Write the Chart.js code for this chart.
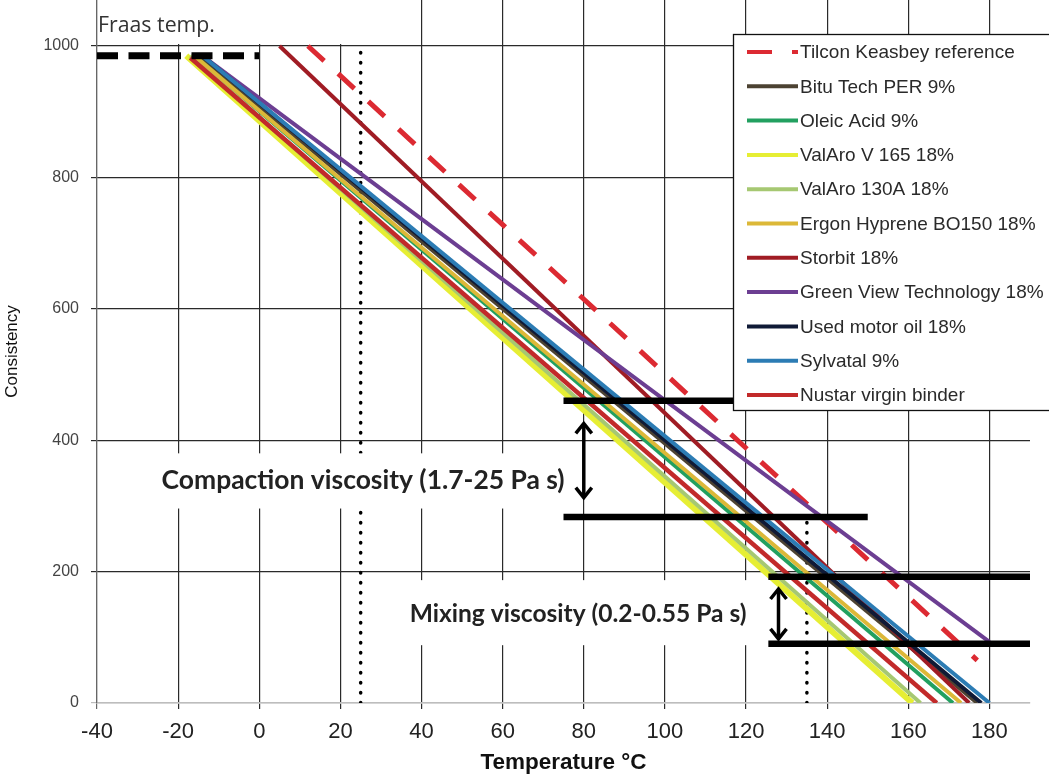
<!DOCTYPE html>
<html>
<head>
<meta charset="utf-8">
<script src="https://cdn.jsdelivr.net/npm/chart.js@4.4.1/dist/chart.umd.min.js"></script>
<style>
html,body{margin:0;padding:0;background:#fff;overflow:hidden;}
#wrap{position:relative;width:1049px;height:776px;}
</style>
</head>
<body>
<div id="wrap"><canvas id="chart" width="1049" height="776"></canvas></div>
<script>
// ---------- values ----------
const xTickValues = [-40, -20, 0, 20, 40, 60, 80, 100, 120, 140, 160, 180];
const yTickValues = [0, 200, 400, 600, 800, 1000];

const seriesNames = [
  "Tilcon Keasbey reference",
  "Bitu Tech PER 9%",
  "Oleic Acid 9%",
  "ValAro V 165 18%",
  "ValAro 130A 18%",
  "Ergon Hyprene BO150 18%",
  "Storbit 18%",
  "Green View Technology 18%",
  "Used motor oil 18%",
  "Sylvatal 9%",
  "Nustar virgin binder"
];
// each series is a straight line: start point -> end point (temperature °C, consistency)
const startTemp = [12, -15, -16, -18, -17, -16, 5, -14, -14, -14, -17];
const startCons = [1000, 985, 985, 985, 985, 985, 1000, 985, 985, 985, 982];
const endTemp   = [177, 177, 171, 161, 163, 173, 175, 180, 178, 180, 167];
const endCons   = [65, 0, 0, 0, 0, 0, 0, 93, 0, 0, 0];

// Fraas temperature marker
const fraasTemp = [-40, 0];
const fraasCons = [985, 985];

// dotted vertical reference lines
const dottedTemp = [25, 135];
const dottedFrom = [0, 0];
const dottedTo   = [1000, 285];

// thick horizontal viscosity range bars
const barCons = [460, 283, 192, 90];
const barFrom = [75, 75, 125.5, 125.5];
const barTo   = [150, 150, 190, 190];

// double-headed arrows
const arrowTemp = [80, 128];
const arrowLow  = [311, 96];
const arrowHigh = [427, 175];

const noteTexts = ["Fraas temp.", "Compaction viscosity (1.7-25 Pa s)", "Mixing viscosity (0.2-0.55 Pa s)"];

// ---------- styles ----------
const seriesColors = ['#dc2a32', '#4c4232', '#22a060', '#e6ee34', '#a6c872', '#dcb838',
                      '#a01c24', '#6c3e92', '#101a36', '#2c7cb4', '#c22a2a'];
const seriesWidths = [5, 4, 4, 6, 4, 4, 4, 4, 4, 4, 4.5];
const SANS = '"Liberation Sans", Arial, sans-serif';

const notesLayout = [
  {t: -40, c: 1022, align: 'left',   baseline: 'alphabetic', family: '"Open Sans", sans-serif', weight: 'normal', width: 117, color: '#333',
   box: {t0: -40, t1: 30, c0: 1003, c1: 1070}},
  {t: 25.6, c: 339, align: 'center', baseline: 'middle', family: 'Lato, "Open Sans", sans-serif', weight: 'bold', width: 403, color: '#222',
   box: {t0: -27, t1: 76, c0: 296, c1: 380}},
  {t: 78.6, c: 136, align: 'center', baseline: 'middle', family: 'Lato, "Open Sans", sans-serif', weight: 'bold', width: 337, color: '#222',
   box: {t0: 35, t1: 124, c0: 88, c1: 187}}
];

// ---------- datasets ----------
const datasets = [];
seriesNames.forEach((name, i) => {
  datasets.push({
    label: name,
    data: [{x: startTemp[i], y: startCons[i]}, {x: endTemp[i], y: endCons[i]}],
    borderColor: seriesColors[i],
    borderWidth: seriesWidths[i],
    borderDash: i === 0 ? [22, 19] : [],
    pointRadius: 0, fill: false, tension: 0,
    order: 100 - i,
    inLegend: true
  });
});
dottedTemp.forEach((t, i) => {
  datasets.push({
    label: 'dotted' + i,
    data: [{x: t, y: dottedFrom[i]}, {x: t, y: dottedTo[i]}],
    borderColor: '#000', borderWidth: 3.5, borderDash: [0.5, 9.5], borderCapStyle: 'round',
    pointRadius: 0, fill: false, order: 200, inLegend: false
  });
});
barCons.forEach((c, i) => {
  datasets.push({
    label: 'bar' + i,
    data: [{x: barFrom[i], y: c}, {x: barTo[i], y: c}],
    borderColor: '#000', borderWidth: 6.5, borderCapStyle: 'butt',
    pointRadius: 0, fill: false, order: -1, inLegend: false
  });
});
datasets.push({
  label: 'fraas',
  data: fraasTemp.map((t, i) => ({x: t, y: fraasCons[i]})),
  borderColor: '#000', borderWidth: 7, borderDash: [21, 10.5], borderCapStyle: 'butt',
  pointRadius: 0, fill: false, order: -2, inLegend: false, clip: false
});

// ---------- plugins ----------
function fitFontSize(ctx, text, family, weight, target) {
  ctx.font = weight + ' 20px ' + family;
  const w = ctx.measureText(text).width;
  return 20 * target / w;
}

function drawArrow(ctx, x, yTop, yBot) {
  ctx.save();
  ctx.strokeStyle = '#000';
  ctx.lineWidth = 3.5;
  ctx.lineJoin = 'miter';
  ctx.lineCap = 'butt';
  ctx.beginPath(); ctx.moveTo(x, yTop + 2); ctx.lineTo(x, yBot - 2); ctx.stroke();
  ctx.beginPath(); ctx.moveTo(x - 8, yTop + 11); ctx.lineTo(x, yTop + 1); ctx.lineTo(x + 8, yTop + 11); ctx.stroke();
  ctx.beginPath(); ctx.moveTo(x - 8, yBot - 11); ctx.lineTo(x, yBot - 1); ctx.lineTo(x + 8, yBot - 11); ctx.stroke();
  ctx.restore();
}

const notesPlugin = {
  id: 'notes',
  afterDatasetsDraw(chart) {
    const ctx = chart.ctx, xs = chart.scales.x, ys = chart.scales.y;
    ctx.save();
    notesLayout.forEach((n, i) => {
      const b = n.box;
      const x0 = xs.getPixelForValue(b.t0), x1 = xs.getPixelForValue(b.t1);
      const y0 = ys.getPixelForValue(b.c1), y1 = ys.getPixelForValue(b.c0);
      ctx.fillStyle = '#fff';
      ctx.fillRect(x0 + (i === 0 ? 1 : 0), y0, x1 - x0, y1 - y0);
      const size = fitFontSize(ctx, noteTexts[i], n.family, n.weight, n.width);
      ctx.font = n.weight + ' ' + size.toFixed(2) + 'px ' + n.family;
      ctx.fillStyle = n.color;
      ctx.textAlign = n.align;
      ctx.textBaseline = n.baseline;
      ctx.fillText(noteTexts[i], xs.getPixelForValue(n.t) + (i === 0 ? 1 : 0), ys.getPixelForValue(n.c));
    });
    arrowTemp.forEach((t, i) => {
      drawArrow(ctx, xs.getPixelForValue(t), ys.getPixelForValue(arrowHigh[i]), ys.getPixelForValue(arrowLow[i]));
    });
    ctx.restore();
  }
};

const legendBoxPlugin = {
  id: 'legendBox',
  afterDraw(chart) {
    const ctx = chart.ctx;
    const L = 733, T = 34, R = 1055, B = 410;
    ctx.save();
    ctx.fillStyle = '#fff';
    ctx.fillRect(L, T, R - L, B - T);
    ctx.strokeStyle = '#111';
    ctx.lineWidth = 1.3;
    ctx.strokeRect(L + 0.5, T + 0.5, R - L, B - T);
    const items = chart.data.datasets.filter(d => d.inLegend);
    items.forEach((d, i) => {
      const y = 52 + i * 34.3;
      ctx.beginPath();
      ctx.strokeStyle = d.borderColor;
      ctx.lineWidth = 4;
      ctx.lineCap = 'butt';
      ctx.setLineDash(i === 0 ? [25, 20] : []);
      ctx.moveTo(747, y); ctx.lineTo(798, y);
      ctx.stroke();
      ctx.setLineDash([]);
      ctx.fillStyle = '#2a2a2a';
      ctx.font = '19px ' + SANS;
      ctx.textAlign = 'left';
      ctx.textBaseline = 'middle';
      ctx.fillText(d.label, 800, y + 1);
    });
    ctx.restore();
  }
};

// ---------- chart ----------
new Chart(document.getElementById('chart'), {
  type: 'line',
  data: {datasets},
  options: {
    responsive: false,
    devicePixelRatio: 1,
    animation: false,
    layout: {padding: {top: 0, right: 19, bottom: 0, left: 0}},
    plugins: {legend: {display: false}, tooltip: {enabled: false}, title: {display: false}},
    scales: {
      x: {
        type: 'linear', min: -40, max: 190, position: 'bottom',
        afterBuildTicks: s => { s.ticks = xTickValues.map(v => ({value: v})); },
        afterFit: s => { s.height = 73; s.paddingTop = 0; s.paddingBottom = 0; },
        ticks: {font: {family: SANS, size: 22}, color: '#222', padding: 10, maxRotation: 0, autoSkip: false,
                callback: v => String(v)},
        grid: {color: c => (c.tick && c.tick.value === -40) ? '#666' : '#2a2a2a', lineWidth: 1.2, tickLength: 6},
        border: {display: true, color: '#bdbdbd', width: 1.5},
        title: {display: true, text: 'Temperature °C', font: {family: SANS, size: 22.5, weight: 'bold'}, color: '#111',
                padding: {top: 0, bottom: 0}}
      },
      y: {
        type: 'linear', min: 0, max: 1070,
        afterBuildTicks: s => { s.ticks = yTickValues.map(v => ({value: v})); },
        afterFit: s => { s.width = 97; s.paddingTop = 0; s.paddingBottom = 0; },
        ticks: {font: {family: SANS, size: 16}, color: '#444', padding: 12, callback: v => String(v)},
        grid: {color: c => (c.tick && c.tick.value === 0) ? '#bdbdbd' : '#2a2a2a', lineWidth: 1.2, tickLength: 6},
        border: {display: true, color: '#666', width: 1.2},
        title: {display: true, text: 'Consistency', font: {family: SANS, size: 17}, color: '#111',
                padding: {top: 2, bottom: 0}}
      }
    }
  },
  plugins: [notesPlugin, legendBoxPlugin]
});
</script>
</body>
</html>
